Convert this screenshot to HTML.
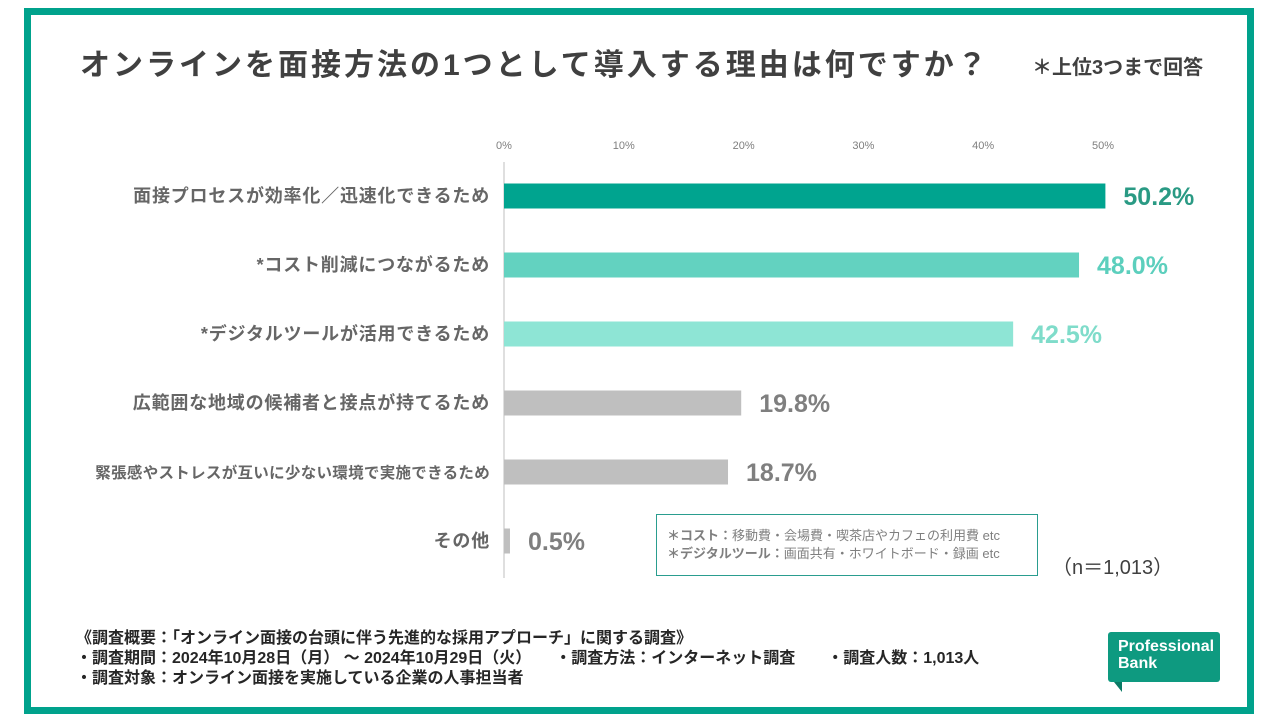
<!DOCTYPE html>
<html><head><meta charset="utf-8"><style>
body{margin:0;width:1280px;height:720px;background:#fff;position:relative;overflow:hidden;font-family:"Liberation Sans","Noto Sans CJK JP",sans-serif;}
.frame{position:absolute;left:24px;top:8px;width:1216px;height:692px;border:7px solid #00a28c;}
.abs{position:absolute;white-space:nowrap;}
</style></head><body>
<div class="frame"></div>
<div class="abs" style="left:80px;top:40px;font-size:30px;font-weight:bold;color:#404040;letter-spacing:3px;">オンラインを面接方法の1つとして導入する理由は何ですか？</div>
<div class="abs" style="left:1032px;top:51px;font-size:20px;font-weight:bold;color:#404040;">＊上位3つまで回答</div>
<svg id="chart" width="1280" height="720" style="position:absolute;left:0;top:0;"></svg>
<div class="abs" style="left:656px;top:514px;width:382px;height:62px;border:1px solid #2a9d8f;box-sizing:border-box;font-size:13px;color:#7f7f7f;padding:12px 0 0 10px;line-height:18px;">
<div><b>＊コスト：</b>移動費・会場費・喫茶店やカフェの利用費 etc</div>
<div><b>＊デジタルツール：</b>画面共有・ホワイトボード・録画 etc</div></div>
<div class="abs" style="left:1052px;top:551px;font-size:20px;color:#404040;">（n＝1,013）</div>
<div class="abs" style="left:76px;top:629px;font-size:16px;font-weight:bold;color:#262626;line-height:20px;">
<div>《調査概要：「オンライン面接の台頭に伴う先進的な採用アプローチ」に関する調査》</div>
<div>・調査期間：2024年10月28日（月） ～ 2024年10月29日（火）　　・調査方法：インターネット調査　　・調査人数：1,013人</div>
<div>・調査対象：オンライン面接を実施している企業の人事担当者</div></div>
<div class="abs" style="left:1108px;top:632px;width:112px;height:50px;background:#0e9a80;border-radius:3px;color:#fff;font-size:16px;line-height:17px;padding:6px 0 0 10px;box-sizing:border-box;font-weight:bold;">Professional<br>Bank</div>
<div class="abs" style="left:1114px;top:682px;width:0;height:0;border-left:8px solid transparent;border-top:10px solid #0b7a65;"></div>
<script>
const categories=["面接プロセスが効率化／迅速化できるため","*コスト削減につながるため","*デジタルツールが活用できるため","広範囲な地域の候補者と接点が持てるため","緊張感やストレスが互いに少ない環境で実施できるため","その他"];
const values=[50.2,48.0,42.5,19.8,18.7,0.5];
const ticks=[0,10,20,30,40,50];
const barColors=["#00a48f","#63d2c0","#8ee5d5","#bfbfbf","#bfbfbf","#bfbfbf"];
const labelColors=["#2a9a84","#5ccfbd","#7fdcca","#7f7f7f","#7f7f7f","#7f7f7f"];
const svg=document.getElementById('chart');
const NS='http://www.w3.org/2000/svg';
const x=v=>504+v*11.98;
const y=i=>196+i*69;
function mk(t,a){const e=document.createElementNS(NS,t);for(const k in a)e.setAttribute(k,a[k]);svg.appendChild(e);return e;}
ticks.forEach(t=>{const e=mk('text',{x:x(t),y:149,'text-anchor':'middle','font-size':11,fill:'#7f7f7f'});e.textContent=t+'%';

});
const ax=mk('line',{x1:504,y1:162,x2:504,y2:578,stroke:'#bfbfbf','stroke-width':1});


values.forEach((v,i)=>{
 const r=mk('rect',{x:504,y:y(i)-12.5,width:x(v)-504,height:25,fill:barColors[i]});
 
 
 const l=mk('text',{x:x(v)+18,y:y(i)+9,'font-size':25,'font-weight':'bold',fill:labelColors[i]});
 l.textContent=v.toFixed(1)+'%';
 
 
 const c=mk('text',{x:490,y:y(i)+6,'text-anchor':'end','font-size':i==4?15.5:18,'font-weight':'bold',fill:'#666666','letter-spacing':i==4?'0.3':'0.8'});
 c.textContent=categories[i];
 
 
});
</script>
</body></html>
